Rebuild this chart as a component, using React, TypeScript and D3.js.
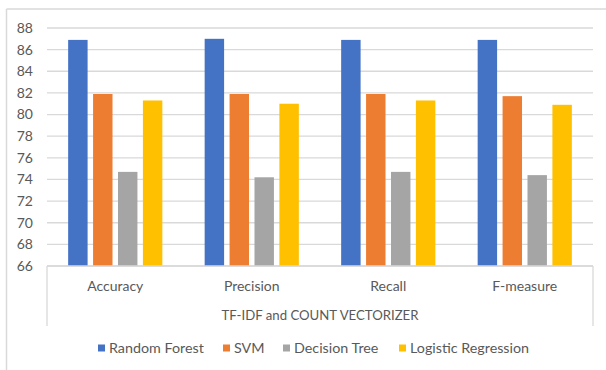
import React from "react";
import * as d3 from "d3";

const categories = ["Accuracy", "Precision", "Recall", "F-measure"];
const seriesNames = ["Random Forest", "SVM", "Decision Tree", "Logistic Regression"];
const randomForest = [86.9, 87.0, 86.9, 86.9];
const svm = [81.9, 81.9, 81.9, 81.7];
const decisionTree = [74.7, 74.2, 74.7, 74.4];
const logisticRegression = [81.3, 81.0, 81.3, 80.9];
const colors = ["#4472C4", "#ED7D31", "#A5A5A5", "#FFC000"];
const yTicks = [66, 68, 70, 72, 74, 76, 78, 80, 82, 84, 86, 88];
const groupLabel = "TF-IDF and COUNT VECTORIZER";

const W = 606;
const H = 370;
const FONT = "Lato, 'Open Sans', sans-serif";
const TEXT = "#595959";

export default function App() {
  const series = [randomForest, svm, decisionTree, logisticRegression];
  const plotLeft = 47;
  const plotRight = 593;
  const y = d3.scaleLinear().domain([66, 88]).range([266, 28]);
  const x0 = d3.scaleBand().domain(categories).range([plotLeft, plotRight]).paddingInner(0.31).paddingOuter(0.155);
  const x1 = d3.scaleBand().domain(seriesNames).range([0, x0.bandwidth()]).paddingInner(0.22);

  const legendX = [98, 223, 283, 399];

  return (
    <div style={{ position: "absolute", left: 0, top: 0, width: W, height: H, background: "#fff" }}>
      <svg width={W} height={H} style={{ display: "block" }}>
        <rect x={0} y={0} width={W} height={H} fill="#fff" />
        <line x1={6.5} x2={W} y1={9} y2={9} stroke="#d9d9d9" strokeWidth={1.5} />
        <line x1={6.5} x2={6.5} y1={9} y2={H} stroke="#d9d9d9" strokeWidth={1.5} />
        {yTicks.map((t) => (
          <line key={t} x1={plotLeft} x2={plotRight} y1={y(t)} y2={y(t)} stroke="#d9d9d9" strokeWidth={1.3} />
        ))}
        {yTicks.map((t) => (
          <text key={"l" + t} x={33} y={y(t)} dy="0.35em" textAnchor="end" fontFamily={FONT} fontSize={14} fill={TEXT}>
            {t}
          </text>
        ))}
        {categories.map((c, ci) => (
          <g key={c} transform={`translate(${x0(c)},0)`}>
            {series.map((s, si) => (
              <rect
                key={si}
                x={x1(seriesNames[si])}
                y={y(s[ci])}
                width={x1.bandwidth()}
                height={y(66) - y(s[ci])}
                fill={colors[si]}
              />
            ))}
          </g>
        ))}
        <line x1={plotLeft} x2={plotRight} y1={y(66)} y2={y(66)} stroke="#d9d9d9" strokeWidth={1.3} />
        <line x1={plotLeft} x2={plotLeft} y1={y(66)} y2={326} stroke="#d9d9d9" strokeWidth={1.3} />
        <line x1={plotRight} x2={plotRight} y1={y(66)} y2={326} stroke="#d9d9d9" strokeWidth={1.3} />
        {categories.map((c) => (
          <text key={"c" + c} x={(x0(c) as number) + x0.bandwidth() / 2} y={286} dy="0.35em" textAnchor="middle" fontFamily={FONT} fontSize={14} fill={TEXT}>
            {c}
          </text>
        ))}
        <text x={(plotLeft + plotRight) / 2} y={315} dy="0.35em" textAnchor="middle" fontFamily={FONT} fontSize={13.2} fill={TEXT}>
          {groupLabel}
        </text>
        {seriesNames.map((n, i) => (
          <g key={"lg" + n} transform={`translate(${legendX[i]},348)`}>
            <rect x={0} y={-3.5} width={7} height={7} fill={colors[i]} />
            <text x={11} y={0} dy="0.35em" fontFamily={FONT} fontSize={14.3} fill={TEXT}>
              {n}
            </text>
          </g>
        ))}
      </svg>
    </div>
  );
}
